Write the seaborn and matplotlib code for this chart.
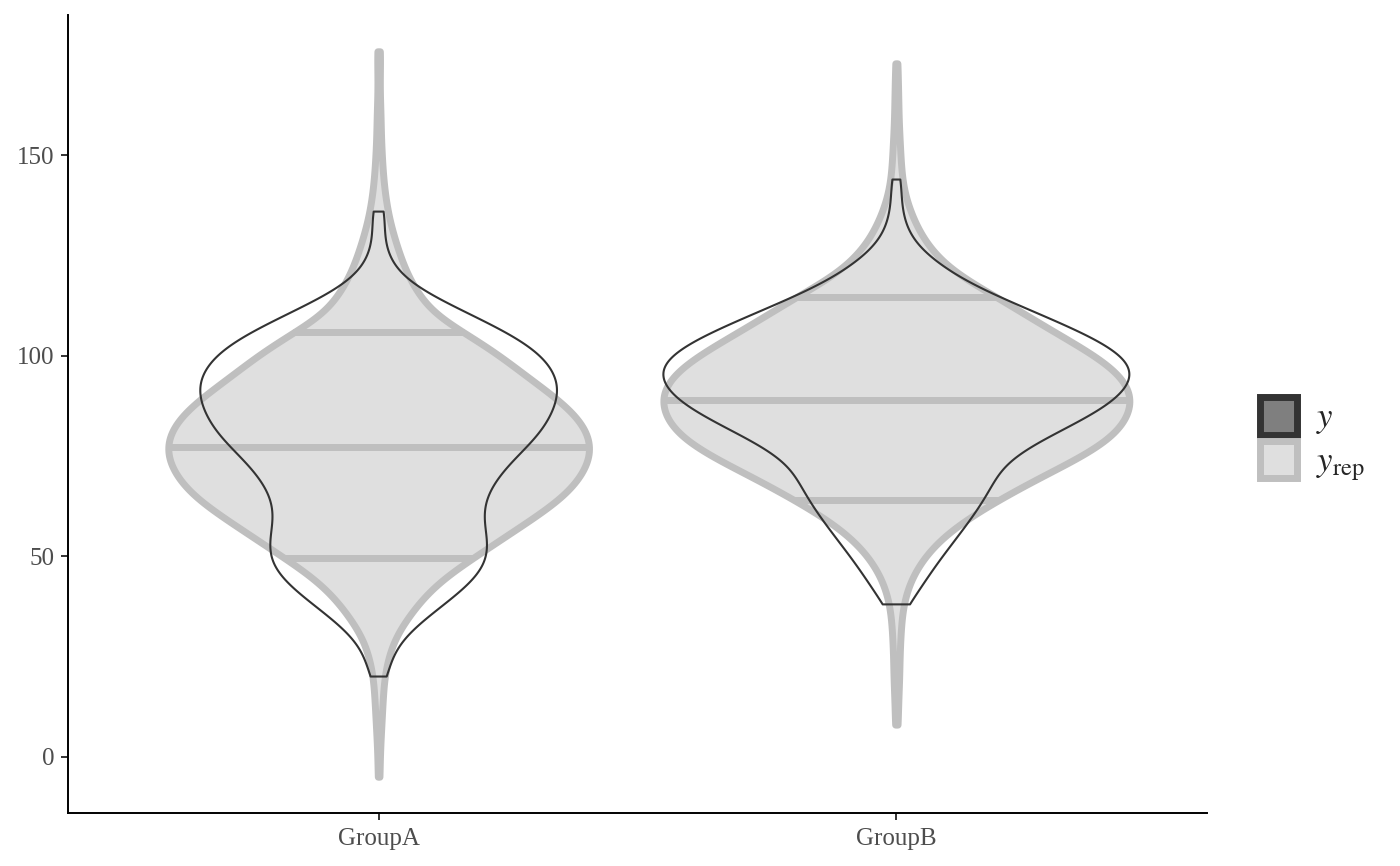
import numpy as np
import pandas as pd
import seaborn as sns
import matplotlib.pyplot as plt
from matplotlib.patches import Patch

groups = ["GroupA", "GroupB"]
probs = [0.1, 0.5, 0.9]

# replicated draws (y_rep), binned: value -> count
yrep_a_vals = [-5, 0, 5, 10, 15, 20, 25, 30, 35, 40, 45, 50, 55, 60, 65, 70, 75, 80, 85,
               90, 95, 100, 105, 110, 115, 120, 125, 130, 135, 140, 145, 150, 155, 160,
               165, 170, 175, 176]
yrep_a_counts = [1, 1, 2, 3, 4, 5, 9, 15, 28, 42, 62, 91, 119, 148, 175, 191, 200, 199, 187,
                 165, 138, 115, 86, 52, 38, 27, 20, 14, 9, 6, 4, 3, 2, 2,
                 1, 1, 1, 1]
yrep_b_vals = [8, 10, 15, 20, 25, 30, 35, 40, 45, 50, 55, 60, 65, 70, 75, 80, 85, 90, 95,
               100, 105, 110, 115, 120, 125, 130, 135, 140, 145, 150, 155, 160, 165, 170, 173]
yrep_b_counts = [1, 1, 2, 3, 3, 4, 5, 8, 15, 27, 45, 72, 106, 142, 183, 214, 228, 232, 222,
                 196, 161, 128, 97, 60, 38, 24, 15, 8, 5, 4, 3, 2, 2, 1, 1]

# observed data (y), binned
y_a_vals = [20, 24, 28, 32, 36, 40, 44, 48, 52, 56, 60, 64, 68, 72, 76, 80, 84, 88, 92, 96,
            100, 104, 108, 112, 116, 120, 124, 128, 132, 136]
y_a_counts = [10, 11, 18, 33, 53, 74, 93, 105, 107, 104, 100, 102, 110, 122, 138, 155, 165, 172,
              176, 171, 160, 139, 108, 75, 42, 20, 10, 6, 5, 8]
y_b_vals = [38, 43, 48, 53, 58, 63, 68, 73, 78, 83, 88, 93, 98, 103, 108, 113, 118, 123, 128,
            133, 138, 143, 144]
y_b_counts = [13, 26, 39, 54, 69, 83, 94, 103, 133, 174, 210, 230, 232, 205, 162, 115, 70, 40,
              17, 8, 5, 3, 3]


def expand(vals_list, counts_list):
    return pd.concat([
        pd.DataFrame({"group": g, "value": np.repeat(v, c)})
        for g, v, c in zip(groups, vals_list, counts_list)
    ], ignore_index=True)


yrep_df = expand([yrep_a_vals, yrep_b_vals], [yrep_a_counts, yrep_b_counts])
y_df = expand([y_a_vals, y_b_vals], [y_a_counts, y_b_counts])

BW = 4.0


def fixed_bw(kde):
    return BW / np.std(kde.dataset, ddof=1)


sns.set_style("ticks")
plt.rcParams["font.family"] = ["Liberation Serif", "DejaVu Serif"]
plt.rcParams["mathtext.fontset"] = "stix"

fig, ax = plt.subplots(figsize=(14, 8.66), dpi=100)
fig.subplots_adjust(left=68 / 1400, right=1207 / 1400, bottom=1 - 813 / 866, top=1 - 15 / 866)

sns.violinplot(data=yrep_df, x="group", y="value", order=groups, ax=ax, cut=0, inner=None,
               width=0.9, density_norm="area", bw_method=fixed_bw, gridsize=300,
               color="#dfdfdf", linecolor="#bfbfbf", linewidth=5, saturation=1)

# quantile lines from the density of each y_rep violin
for pos, coll in enumerate(ax.collections[:2]):
    verts = coll.get_paths()[0].vertices
    side = verts[verts[:, 0] >= pos]
    ys, idx = np.unique(side[:, 1], return_index=True)
    ws = side[idx, 0] - pos
    cum = np.concatenate([[0], np.cumsum(np.diff(ys) * (ws[1:] + ws[:-1]) / 2)])
    for p in probs:
        yq = np.interp(p * cum[-1], cum, ys)
        wq = np.interp(yq, ys, ws)
        ax.plot([pos - wq, pos + wq], [yq, yq], color="#bfbfbf", lw=5,
                solid_capstyle="butt", zorder=2)

n_before = len(ax.collections)
sns.violinplot(data=y_df, x="group", y="value", order=groups, ax=ax, cut=0, inner=None,
               width=0.9, density_norm="area", bw_method=fixed_bw, gridsize=300,
               fill=False, color="#333333", linewidth=1.5, saturation=1)
for coll in ax.collections[n_before:]:
    coll.set_zorder(3)

lo, hi = min(yrep_a_vals + yrep_b_vals), max(yrep_a_vals + yrep_b_vals)
pad = 0.05 * (hi - lo)
ax.set_ylim(lo - pad, hi + pad)
ax.set_xlim(-0.6, 1.6)
ax.set_yticks([0, 50, 100, 150])
ax.set(xlabel="", ylabel="")
ax.tick_params(axis="both", labelsize=18, labelcolor="#4d4d4d", color="#333333",
               length=5, width=1.4)
ax.tick_params(axis="x", pad=6)
ax.tick_params(axis="y", pad=5)
sns.despine(ax=ax)
for s in ["left", "bottom"]:
    ax.spines[s].set_linewidth(1.4)
    ax.spines[s].set_color("black")

handles = [Patch(facecolor="#7f7f7f", edgecolor="#333333", linewidth=5),
           Patch(facecolor="#dfdfdf", edgecolor="#bfbfbf", linewidth=5)]
fig.legend(handles, [r"$y$", r"$y_{\mathrm{rep}}$"], loc="center left",
           bbox_to_anchor=(0.8875, 0.492), frameon=False, fontsize=25,
           handlelength=1.07, handleheight=1.3, handletextpad=0.56,
           labelspacing=0.12, borderpad=0)

fig.savefig("out.png", dpi=100)
